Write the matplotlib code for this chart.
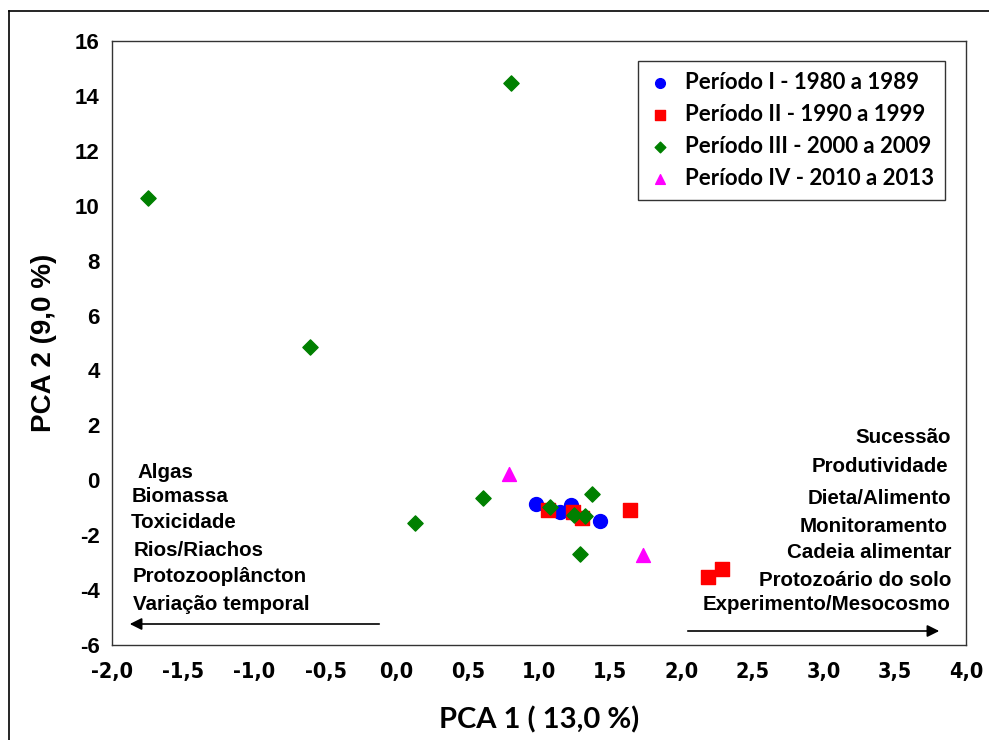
import matplotlib
matplotlib.use("Agg")
import matplotlib.pyplot as plt
from matplotlib.lines import Line2D

# PCA scores by period
p1_x = [0.98, 1.145, 1.225, 1.43]
p1_y = [-0.87, -1.14, -0.90, -1.48]

p2_x = [1.06, 1.237, 1.305, 1.64, 2.19, 2.283]
p2_y = [-1.08, -1.14, -1.36, -1.08, -3.51, -3.22]

p3_x = [0.80, -1.75, -0.61, 0.13, 0.61, 1.077, 1.246, 1.32, 1.372, 1.29]
p3_y = [14.47, 10.28, 4.86, -1.55, -0.64, -0.96, -1.26, -1.30, -0.50, -2.70]

p4_x = [0.79, 1.73]
p4_y = [0.22, -2.72]

labels = ["Período I - 1980 a 1989", "Período II - 1990 a 1999",
          "Período III - 2000 a 2009", "Período IV - 2010 a 2013"]

left_terms = ["Algas", "Biomassa", "Toxicidade", "Rios/Riachos",
              "Protozooplâncton", "Variação temporal"]
right_terms = ["Sucessão", "Produtividade", "Dieta/Alimento", "Monitoramento",
               "Cadeia alimentar", "Protozoário do solo", "Experimento/Mesocosmo"]

xticks = [-2.0, -1.5, -1.0, -0.5, 0.0, 0.5, 1.0, 1.5, 2.0, 2.5, 3.0, 3.5, 4.0]
yticks = list(range(-6, 17, 2))

W, H = 989, 740
fig = plt.figure(figsize=(W / 100, H / 100), dpi=100)
ax = fig.add_axes([112 / W, 1 - 645 / H, (966 - 112) / W, (645 - 41) / H])

ax.scatter(p1_x, p1_y, marker="o", s=100, color="#0000ff", zorder=3, label=labels[0])
ax.scatter(p2_x, p2_y, marker="s", s=95, color="#ff0000", zorder=3, label=labels[1])
ax.scatter(p3_x, p3_y, marker="D", s=60, color="#008000", zorder=3, label=labels[2])
ax.scatter(p4_x, p4_y, marker="^", s=100, color="#ff00ff", zorder=3, label=labels[3])

ax.set_xlim(-2, 4)
ax.set_ylim(-6, 16)
ax.set_xticks(xticks)
ax.set_xticklabels([f"{v:.1f}".replace(".", ",") for v in xticks],
                   fontfamily="DejaVu Sans", fontstretch="condensed",
                   fontweight="bold", fontsize=15.5)
ax.set_yticks(yticks)
ax.set_yticklabels([str(v) for v in yticks], fontfamily="Liberation Sans",
                   fontweight="bold", fontsize=16)
ax.tick_params(axis="both", length=0)
ax.tick_params(axis="x", pad=12)
ax.tick_params(axis="y", pad=9)
for s in ax.spines.values():
    s.set_linewidth(1.0)
    s.set_color("#333333")

ax.set_xlabel("PCA 1 ( 13,0 %)", fontfamily="Lato", fontweight="bold", fontsize=21)
ax.xaxis.set_label_coords(0.5, -0.102)
ax.set_ylabel("PCA 2 (9,0 %)", fontfamily="Liberation Sans", fontweight="bold", fontsize=20)
ax.yaxis.set_label_coords(-0.064, 0.5)

leg = ax.legend(loc="upper right", bbox_to_anchor=((945 - 112) / (966 - 112), 1 - (61 - 41) / 604),
                borderaxespad=0.0,
                prop={"family": "Lato", "weight": "bold", "size": 16},
                frameon=True, fancybox=False, edgecolor="black", handletextpad=0.6,
                handlelength=1.0, borderpad=0.5, labelspacing=0.49, markerscale=0.7)
leg.get_frame().set_linewidth(1.0)

tf = dict(fontfamily="Liberation Sans", fontweight="bold", fontsize=14.8, va="center",
          transform=fig.transFigure)
left_pos = [(137, 472), (132, 497), (131, 522), (134, 550), (133, 577), (133, 604)]
for t, (px, py) in zip(left_terms, left_pos):
    fig.text(px / W, 1 - py / H, t, ha="left", **tf)
right_pos = [(951, 438), (948, 467), (951, 499), (948, 526), (951, 553), (951, 581), (951, 605)]
for t, (px, py) in zip(right_terms, right_pos):
    fig.text(px / W, 1 - py / H, t, ha="right", **tf)

arrow = dict(arrowstyle="-|>", color="black", lw=1.2, mutation_scale=18)
ax.annotate("", xy=(127 / W, 1 - 624 / H), xytext=(382 / W, 1 - 624 / H),
            xycoords="figure fraction", textcoords="figure fraction", arrowprops=arrow)
ax.annotate("", xy=(942 / W, 1 - 631 / H), xytext=(685 / W, 1 - 631 / H),
            xycoords="figure fraction", textcoords="figure fraction", arrowprops=arrow)

# outer frame
fig.add_artist(Line2D([9 / W, 9 / W], [0, 1 - 11 / H], transform=fig.transFigure, color="black", lw=1.2))
fig.add_artist(Line2D([9 / W, 1], [1 - 11 / H, 1 - 11 / H], transform=fig.transFigure, color="black", lw=1.2))

fig.savefig("out.png", dpi=100)
